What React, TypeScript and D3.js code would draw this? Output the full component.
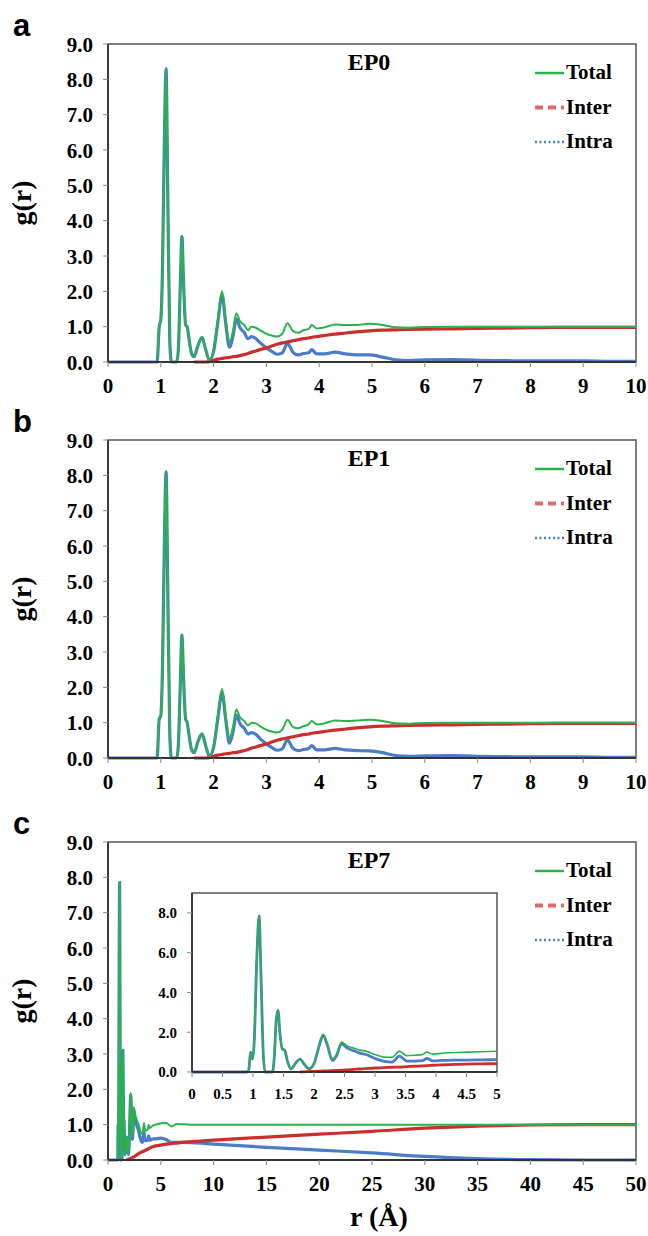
import * as d3 from "d3";

// ---- EP0 (panel a) ----
const rA = [0, 0.9, 0.93, 0.97, 1.0, 1.03, 1.07, 1.1, 1.13, 1.17, 1.2, 1.3, 1.33, 1.37, 1.4, 1.43, 1.47, 1.5, 1.53, 1.58, 1.63, 1.7, 1.78, 1.85, 1.92, 2.0, 2.08, 2.16, 2.23, 2.3, 2.37, 2.43, 2.5, 2.58, 2.65, 2.72, 2.8, 2.9, 3.0, 3.1, 3.2, 3.3, 3.4, 3.5, 3.6, 3.7, 3.8, 3.86, 3.95, 4.1, 4.3, 4.5, 4.7, 4.95, 5.2, 5.45, 5.7, 6.0, 6.5, 7.0, 7.5, 8.0, 8.5, 9.0, 9.5, 10];
const totalA = [0, 0, 0, 1.0, 1.2, 2.5, 6.5, 8.3, 5.0, 0.6, 0, 0, 0.3, 2.2, 3.55, 2.3, 1.05, 1.0, 0.7, 0.25, 0.15, 0.45, 0.7, 0.35, 0.05, 0.35, 1.2, 2.0, 1.2, 0.55, 0.9, 1.38, 1.15, 1.05, 0.9, 1.0, 0.97, 0.88, 0.8, 0.75, 0.72, 0.8, 1.1, 0.88, 0.83, 0.9, 0.94, 1.05, 0.95, 0.98, 1.06, 1.05, 1.05, 1.08, 1.05, 0.98, 0.97, 0.99, 1.0, 1.0, 1.0, 1.0, 1.0, 1.0, 1.0, 1.0];
const intraA = [0, 0, 0, 1.0, 1.2, 2.5, 6.5, 8.3, 5.0, 0.6, 0, 0, 0.3, 2.2, 3.55, 2.3, 1.05, 1.0, 0.7, 0.25, 0.15, 0.45, 0.7, 0.35, 0.05, 0.3, 1.12, 1.9, 1.08, 0.42, 0.75, 1.22, 0.97, 0.84, 0.66, 0.72, 0.66, 0.52, 0.4, 0.3, 0.22, 0.26, 0.53, 0.28, 0.2, 0.24, 0.26, 0.35, 0.23, 0.23, 0.28, 0.23, 0.2, 0.2, 0.14, 0.06, 0.04, 0.06, 0.07, 0.05, 0.04, 0.03, 0.03, 0.03, 0.02, 0.02];
const interA = [null, null, null, null, null, null, null, null, null, null, null, null, null, null, null, null, null, null, null, null, 0, 0, 0, 0, 0.01, 0.05, 0.08, 0.1, 0.12, 0.13, 0.15, 0.16, 0.18, 0.21, 0.24, 0.28, 0.31, 0.36, 0.4, 0.45, 0.5, 0.54, 0.57, 0.6, 0.63, 0.66, 0.68, 0.7, 0.72, 0.75, 0.79, 0.82, 0.85, 0.88, 0.9, 0.91, 0.92, 0.93, 0.94, 0.95, 0.96, 0.97, 0.98, 0.98, 0.98, 0.98];

// ---- EP1 (panel b) ----
const rB = [0, 0.9, 0.93, 0.97, 1.0, 1.03, 1.07, 1.1, 1.13, 1.17, 1.2, 1.3, 1.33, 1.37, 1.4, 1.43, 1.47, 1.5, 1.53, 1.58, 1.63, 1.7, 1.78, 1.85, 1.92, 2.0, 2.08, 2.16, 2.23, 2.3, 2.37, 2.43, 2.5, 2.58, 2.65, 2.72, 2.8, 2.9, 3.0, 3.1, 3.2, 3.3, 3.4, 3.5, 3.6, 3.7, 3.8, 3.86, 3.95, 4.1, 4.3, 4.5, 4.7, 4.95, 5.2, 5.45, 5.7, 6.0, 6.5, 7.0, 7.5, 8.0, 8.5, 9.0, 9.5, 10];
const totalB = [0, 0, 0, 1.1, 1.2, 2.4, 6.3, 8.1, 5.0, 0.7, 0, 0, 0.3, 2.1, 3.48, 2.3, 1.1, 1.0, 0.7, 0.25, 0.15, 0.45, 0.68, 0.35, 0.05, 0.35, 1.2, 1.95, 1.2, 0.55, 0.9, 1.37, 1.15, 1.05, 0.92, 1.0, 0.98, 0.88, 0.8, 0.75, 0.72, 0.8, 1.08, 0.88, 0.84, 0.9, 0.95, 1.05, 0.95, 0.98, 1.06, 1.05, 1.06, 1.08, 1.05, 0.98, 0.97, 0.99, 1.0, 1.0, 1.0, 1.0, 1.0, 1.0, 1.0, 1.0];
const intraB = [0, 0, 0, 1.1, 1.2, 2.4, 6.3, 8.1, 5.0, 0.7, 0, 0, 0.3, 2.1, 3.48, 2.3, 1.1, 1.0, 0.7, 0.25, 0.15, 0.45, 0.68, 0.35, 0.05, 0.3, 1.12, 1.85, 1.08, 0.42, 0.75, 1.21, 0.97, 0.84, 0.68, 0.72, 0.67, 0.52, 0.4, 0.3, 0.22, 0.26, 0.51, 0.28, 0.21, 0.24, 0.27, 0.35, 0.23, 0.23, 0.27, 0.23, 0.21, 0.2, 0.15, 0.07, 0.05, 0.06, 0.07, 0.05, 0.04, 0.03, 0.03, 0.03, 0.02, 0.02];
const interB = [null, null, null, null, null, null, null, null, null, null, null, null, null, null, null, null, null, null, null, null, 0, 0, 0, 0, 0.01, 0.05, 0.08, 0.1, 0.12, 0.13, 0.15, 0.16, 0.18, 0.21, 0.24, 0.28, 0.31, 0.36, 0.4, 0.45, 0.5, 0.54, 0.57, 0.6, 0.63, 0.66, 0.68, 0.7, 0.72, 0.75, 0.79, 0.82, 0.85, 0.88, 0.9, 0.91, 0.92, 0.93, 0.94, 0.95, 0.96, 0.97, 0.98, 0.98, 0.98, 0.98];

// ---- EP7 (panel c), short range 0-5 (also the inset) ----
const rC = [0, 0.9, 0.93, 0.96, 0.99, 1.02, 1.06, 1.1, 1.13, 1.17, 1.2, 1.32, 1.35, 1.38, 1.41, 1.44, 1.48, 1.52, 1.56, 1.62, 1.7, 1.77, 1.84, 1.92, 2.0, 2.08, 2.15, 2.22, 2.3, 2.37, 2.45, 2.55, 2.65, 2.75, 2.85, 3.0, 3.15, 3.28, 3.4, 3.52, 3.65, 3.78, 3.85, 3.95, 4.1, 4.3, 4.5, 4.75, 5.0];
const totalC = [0, 0, 0.1, 1.0, 0.65, 1.5, 5.5, 7.85, 5.0, 0.8, 0, 0, 0.8, 2.6, 3.1, 2.0, 1.15, 1.1, 0.6, 0.15, 0.45, 0.65, 0.4, 0.18, 0.45, 1.3, 1.9, 1.4, 0.65, 0.9, 1.5, 1.3, 1.2, 1.1, 1.05, 0.88, 0.75, 0.74, 1.05, 0.82, 0.84, 0.88, 1.0, 0.9, 0.94, 0.98, 1.0, 1.02, 1.04];
const intraC = [0, 0, 0.1, 1.0, 0.65, 1.5, 5.5, 7.85, 5.0, 0.8, 0, 0, 0.8, 2.6, 3.1, 2.0, 1.15, 1.1, 0.6, 0.15, 0.45, 0.65, 0.39, 0.16, 0.42, 1.26, 1.85, 1.34, 0.58, 0.82, 1.41, 1.19, 1.07, 0.95, 0.88, 0.68, 0.53, 0.5, 0.8, 0.55, 0.55, 0.57, 0.68, 0.56, 0.58, 0.6, 0.6, 0.61, 0.62];
const interC = [null, null, null, null, null, null, null, null, null, null, null, null, null, null, null, null, null, null, null, null, null, 0, 0.01, 0.02, 0.03, 0.04, 0.05, 0.06, 0.07, 0.08, 0.09, 0.11, 0.13, 0.15, 0.17, 0.2, 0.22, 0.24, 0.25, 0.27, 0.29, 0.31, 0.32, 0.34, 0.36, 0.38, 0.4, 0.41, 0.42];
// long range 5.5-50
const rCLong = [5.5, 6.0, 6.5, 7.0, 8.0, 10, 15, 20, 25, 30, 35, 40, 45, 50];
const totalCLong = [1.05, 0.95, 1.02, 1.01, 1.0, 1.0, 1.0, 1.0, 1.0, 1.0, 1.0, 1.0, 1.0, 1.0];
const intraCLong = [0.58, 0.5, 0.5, 0.5, 0.49, 0.45, 0.36, 0.28, 0.2, 0.1, 0.04, 0.01, 0, 0];
const interCLong = [0.45, 0.46, 0.48, 0.5, 0.52, 0.56, 0.65, 0.73, 0.81, 0.9, 0.96, 0.99, 1.0, 1.0];

const yTicksMain = [0, 1, 2, 3, 4, 5, 6, 7, 8, 9];
const xTicksAB = [0, 1, 2, 3, 4, 5, 6, 7, 8, 9, 10];
const xTicksC = [0, 5, 10, 15, 20, 25, 30, 35, 40, 45, 50];
const xTicksInset = [0, 0.5, 1, 1.5, 2, 2.5, 3, 3.5, 4, 4.5, 5];
const yTicksInset = [0, 2, 4, 6, 8];
const legendNames = ["Total", "Inter", "Intra"];

const GREEN = "#2bb24c";
const RED = "#c9302c";
const BLUE = "#4a7cc9";
const SERIF = { fontFamily: "'Liberation Serif', 'Times New Roman', Times, serif", fontWeight: 700 };
const fmt1 = d3.format(".1f");

function Plot({ left, top, width, height, xMax, xTicks, yMax, yTicks, r, total, intra, inter, fs, lw, yFmt, xOff }) {
  const x = d3.scaleLinear().domain([0, xMax]).range([left, left + width]);
  const y = d3.scaleLinear().domain([0, yMax]).range([top + height, top]);
  const mk = (vals) => d3.line()
    .defined((d) => d[1] != null)
    .x((d) => x(d[0]))
    .y((d) => y(d[1]))
    .curve(d3.curveMonotoneX)(r.map((v, i) => [v, vals[i]]));
  return (
    <g>
      <rect x={left} y={top} width={width} height={height} fill="#fff" stroke="#555" strokeWidth={1.5} />
      {/* intra drawn wide underneath, total on top so the overlapping peaks look green with blue edges */}
      <path d={mk(intra)} fill="none" stroke={BLUE} strokeWidth={lw + 0.8} />
      <path d={mk(inter)} fill="none" stroke={RED} strokeWidth={lw + 0.8} />
      <path d={mk(total)} fill="none" stroke={GREEN} strokeWidth={lw - 0.4} />
      <line x1={left} x2={left} y1={top} y2={top + height} stroke="#333" strokeWidth={1.8} />
      <line x1={left} x2={left + width} y1={top + height} y2={top + height} stroke="#333" strokeWidth={1.8} />
      {yTicks.map((t) => (
        <g key={"y" + t}>
          <line x1={left - 5} x2={left} y1={y(t)} y2={y(t)} stroke="#888" strokeWidth={1} />
          <text x={left - 15} y={y(t)} dy="0.36em" textAnchor="end" style={SERIF} fontSize={fs}>{yFmt(t)}</text>
        </g>
      ))}
      {xTicks.map((t) => (
        <g key={"x" + t}>
          <line x1={x(t)} x2={x(t)} y1={top + height} y2={top + height + 5} stroke="#888" strokeWidth={1} />
          <text x={x(t)} y={top + height + xOff} textAnchor="middle" style={SERIF} fontSize={fs}>{String(t)}</text>
        </g>
      ))}
    </g>
  );
}

function Legend({ x0, top }) {
  const styles = [
    { stroke: GREEN, dash: null, w: 2.5 },
    { stroke: "#e06a6a", dash: "8,5", w: 4 },
    { stroke: BLUE, dash: "2,2.5", w: 2.5 },
  ];
  return (
    <g>
      {legendNames.map((n, i) => (
        <g key={n}>
          <line x1={x0} x2={x0 + 29} y1={top + 29 + i * 34.5} y2={top + 29 + i * 34.5} stroke={styles[i].stroke} strokeWidth={styles[i].w} strokeDasharray={styles[i].dash || undefined} />
          <text x={x0 + 31} y={top + 35 + i * 34.5} style={SERIF} fontSize={21}>{n}</text>
        </g>
      ))}
    </g>
  );
}

function Panel({ top, letter, title, xMax, xTicks, r, total, intra, inter, children }) {
  const h = 318;
  return (
    <g>
      <text x={13} y={top - 8} style={{ fontFamily: "'Liberation Sans', Arial, sans-serif", fontWeight: 700 }} fontSize={31}>{letter}</text>
      <Plot left={108} top={top} width={528} height={h} xMax={xMax} xTicks={xTicks} yMax={9} yTicks={yTicksMain}
        r={r} total={total} intra={intra} inter={inter} fs={21} lw={2.4} yFmt={fmt1} xOff={31} />
      <text x={369} y={top + 26} textAnchor="middle" style={SERIF} fontSize={24}>{title}</text>
      <Legend x0={535} top={top} />
      <text transform={`translate(31,${top + h / 2}) rotate(-90)`} textAnchor="middle" style={SERIF} fontSize={28}>g(r)</text>
      {children}
    </g>
  );
}

export default function App() {
  const rCAll = rC.concat(rCLong);
  return (
    <svg width={648} height={1236} style={{ position: "absolute", left: 0, top: 0, background: "#fff" }}>
      <Panel top={44} letter="a" title="EP0" xMax={10} xTicks={xTicksAB} r={rA} total={totalA} intra={intraA} inter={interA} />
      <Panel top={440} letter="b" title="EP1" xMax={10} xTicks={xTicksAB} r={rB} total={totalB} intra={intraB} inter={interB} />
      <Panel top={842} letter="c" title="EP7" xMax={50} xTicks={xTicksC} r={rCAll}
        total={totalC.concat(totalCLong)} intra={intraC.concat(intraCLong)} inter={interC.concat(interCLong)}>
        <Plot left={192} top={893} width={305} height={179} xMax={5} xTicks={xTicksInset} yMax={9} yTicks={yTicksInset}
          r={rC} total={totalC} intra={intraC} inter={interC} fs={15} lw={2} yFmt={fmt1} xOff={27} />
      </Panel>
      <text x={379} y={1226} textAnchor="middle" style={SERIF} fontSize={28}>r (Å)</text>
    </svg>
  );
}
